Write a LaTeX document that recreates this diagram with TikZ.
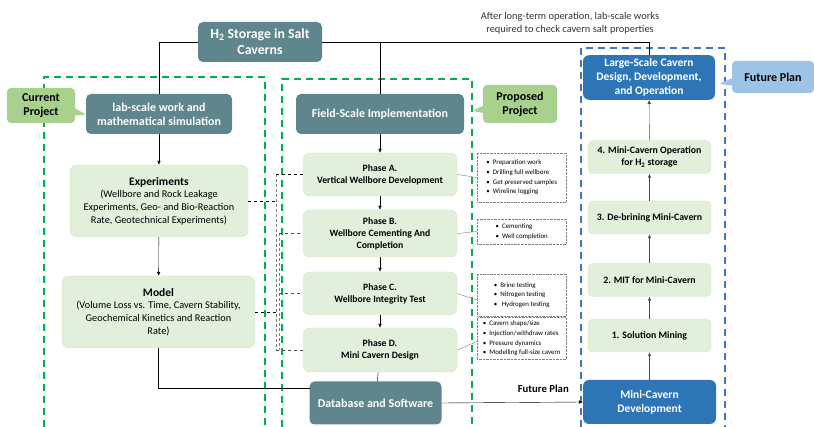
\documentclass[tikz,border=0pt]{standalone}
\usepackage{fontspec}
\setmainfont{Carlito}
\usetikzlibrary{arrows.meta,shapes.callouts}

\definecolor{tealc}{HTML}{5F868D}
\definecolor{lgreen}{HTML}{E2EFDA}
\definecolor{lgreenb}{HTML}{D3E4C8}
\definecolor{cgreen}{HTML}{A9D18E}
\definecolor{dgreen}{HTML}{00B050}
\definecolor{bluec}{HTML}{2E75B6}
\definecolor{lblue}{HTML}{9DC3E6}
\definecolor{dblue}{HTML}{4472C4}

\tikzset{
  tealbox/.style={fill=tealc, rounded corners=5pt, text=white, align=center,
    font=\fontsize{12}{14}\selectfont\bfseries},
  greenbox/.style={fill=lgreen, draw=lgreenb, rounded corners=7pt, align=center},
  bluebox/.style={fill=bluec, rounded corners=6pt, text=white, align=center,
    font=\fontsize{11.5}{14}\selectfont\bfseries},
  notebox/.style={draw=gray, densely dotted, align=left, inner xsep=4pt,
    font=\fontsize{6.9}{9.7}\selectfont, anchor=west},
  projcall/.style={rectangle callout, rounded corners=4pt, align=center,
    font=\fontsize{12}{14}\selectfont\bfseries},
  frame/.style={line width=1.6pt, dash pattern=on 7pt off 5pt},
  arr/.style={-{Latex[length=4pt,width=3.5pt]}},
  bus/.style={gray, densely dashed, line width=0.5pt}
}

\begin{document}
\begin{tikzpicture}[x=1pt,y=-1pt]
\useasboundingbox (0,0) rectangle (814,427);

% project frames
\draw[frame, dgreen] (44,427) -- (44,77) -- (265,77) -- (265,427);
\draw[frame, dgreen] (282,427) -- (282,79) -- (472,79) -- (472,427);
\draw[frame, dblue] (581,427) -- (581,48) -- (725,48) -- (725,427);

% top
\node[tealbox, minimum width=124pt, minimum height=40pt,
  font=\fontsize{13.8}{16}\selectfont\bfseries] (title) at (260,42)
  {H\textsubscript{2} Storage in Salt\\Caverns};
\node[align=center, text=black!80, font=\fontsize{10.4}{13.5}\selectfont] (note) at (570,23)
  {After long-term operation, lab-scale works\\required to check cavern salt properties};

% current project
\node[tealbox, minimum width=146pt, minimum height=40pt] (lab) at (159,114)
  {lab-scale work and\\mathematical simulation};
\node[greenbox, minimum width=178pt, minimum height=72pt,
  font=\fontsize{10.3}{12.7}\selectfont] (exp) at (159,201)
  {{\fontsize{11.5}{13}\selectfont\bfseries Experiments}\\(Wellbore and Rock Leakage\\Experiments, Geo- and Bio-Reaction\\Rate, Geotechnical Experiments)};
\node[greenbox, minimum width=193pt, minimum height=72pt,
  font=\fontsize{10.3}{12.7}\selectfont] (model) at (158.5,312)
  {{\fontsize{11.5}{13}\selectfont\bfseries Model}\\(Volume Loss vs. Time, Cavern Stability,\\Geochemical Kinetics and Reaction\\Rate)};
\node[projcall, fill=cgreen, minimum width=68pt, minimum height=35pt,
  callout absolute pointer={(87,115)}] (curr) at (41,105.5) {Current\\Project};

% field scale
\node[tealbox, minimum width=168pt, minimum height=40pt] (field) at (380,114)
  {Field-Scale Implementation};
\node[projcall, fill=cgreen, minimum width=74pt, minimum height=38pt,
  callout absolute pointer={(472,111)}] (prop) at (520,104) {Proposed\\Project};

\begin{scope}[every node/.style={greenbox, minimum width=154pt,
  font=\fontsize{9.7}{12}\selectfont\bfseries}]
\node[minimum height=43pt] (pa) at (380,174.5) {Phase A.\\Vertical Wellbore Development};
\node[minimum height=47pt] (pb) at (380,233.5) {Phase B.\\Wellbore Cementing And\\Completion};
\node[minimum height=43pt] (pc) at (380,293.5) {Phase C.\\Wellbore Integrity Test};
\node[minimum height=44pt] (pd) at (380,350) {Phase D.\\Mini Cavern Design};
\end{scope}

\node[notebox, minimum width=89pt, minimum height=49pt] (na) at (477,177.5)
  {\textbullet\ \ Preparation work\\\textbullet\ \ Drilling full wellbore\\\textbullet\ \ Get preserved samples\\\textbullet\ \ Wireline logging};
\node[notebox, minimum width=89pt, minimum height=25pt] (nb) at (477,231.5)
  {\textbullet\ \ Cementing\\\textbullet\ \ Well completion};
\node[notebox, minimum width=89pt, minimum height=42pt] (nc) at (477,295)
  {\textbullet\ \ Brine testing\\\textbullet\ \ Nitrogen testing\\\textbullet\ \ \ Hydrogen testing};
\node[notebox, minimum width=89pt, minimum height=41pt] (nd) at (477,338.5)
  {\textbullet\ \ Cavern shape/size\\\textbullet\ \ Injection/withdraw rates\\\textbullet\ \ Pressure dynamics\\\textbullet\ \ Modelling full-size cavern};

\node[tealbox, minimum width=132pt, minimum height=43pt] (db) at (375.5,403)
  {Database and Software};

% future plan
\node[bluebox, minimum width=132pt, minimum height=43pt] (large) at (649,77.5)
  {Large-Scale Cavern\\Design, Development,\\and Operation};
\node[projcall, fill=lblue, minimum width=82pt, minimum height=32pt,
  callout absolute pointer={(718,84)}] (fut) at (773,77) {Future Plan};
\begin{scope}[every node/.style={greenbox, rounded corners=5pt, minimum width=123pt,
  minimum height=33pt, font=\fontsize{9.8}{12}\selectfont\bfseries}]
\node (op4) at (649.5,157) {4. Mini-Cavern Operation\\for H\textsubscript{2} storage};
\node (op3) at (649.5,217.5) {3. De-brining Mini-Cavern};
\node (op2) at (649.5,280) {2. MIT for Mini-Cavern};
\node (op1) at (649.5,335.5) {1. Solution Mining};
\end{scope}
\node[bluebox, minimum width=133pt, minimum height=44pt] (mcd) at (649.5,402)
  {Mini-Cavern\\Development};

% connectors
\draw (title.west) -| (lab.north);
\draw (title.east) -| (large.north);
\draw (field.north |- title.east) -- (field.north);
\draw[arr] (lab) -- (exp);
\draw[arr] (exp) -- (model);
\draw[arr] (field) -- (pa);
\draw[arr] (pa) -- (pb);
\draw[arr] (pb) -- (pc);
\draw[arr] (pc) -- (pd);
\draw (pd) -- (db);
\coordinate (dbin) at (310,388);
\draw (model.south) |- (dbin);
\draw[arr] (db.east) -- node[above=6pt, pos=0.72, font=\fontsize{10.7}{12}\selectfont\bfseries] (fplab) {Future Plan} (mcd.west);
\draw[arr, black!70] (mcd) -- (op1);
\draw[arr, black!70] (op1) -- (op2);
\draw[arr, black!70] (op2) -- (op3);
\draw[arr, black!70] (op3) -- (op4);
\draw[arr, black!70] (op4) -- (large);

% phases to notes
\draw[gray, thin] (pa.east) -- (na.west);
\draw[gray, thin] (pb.east) -- (nb.west);
\draw[gray, thin] (pc.east) -- ([yshift=-5pt]nc.west);
\draw[gray, thin] (pd.east) -- ([yshift=-3pt]nd.west);

% lab work to phases
\coordinate (ebus) at (276,201);
\coordinate (mbus) at (279,312);
\draw[dashed] (exp.east |- ebus) -- (ebus);
\draw[dashed] (model.east |- mbus) -- (mbus);
\draw[bus] (pa.west -| ebus) -- (pd.west -| ebus);
\draw[bus] (pb.west -| mbus) -- (pd.west -| mbus);
\draw[dashed] (pa.west -| ebus) -- (pa.west);
\draw[dashed, black!70] (pb.west -| mbus) -- (pb.west);
\draw[dashed, black!70] (pc.west -| mbus) -- (pc.west);
\draw[dashed, black!70] (pd.west -| ebus) -- (pd.west);
\end{tikzpicture}
\end{document}
